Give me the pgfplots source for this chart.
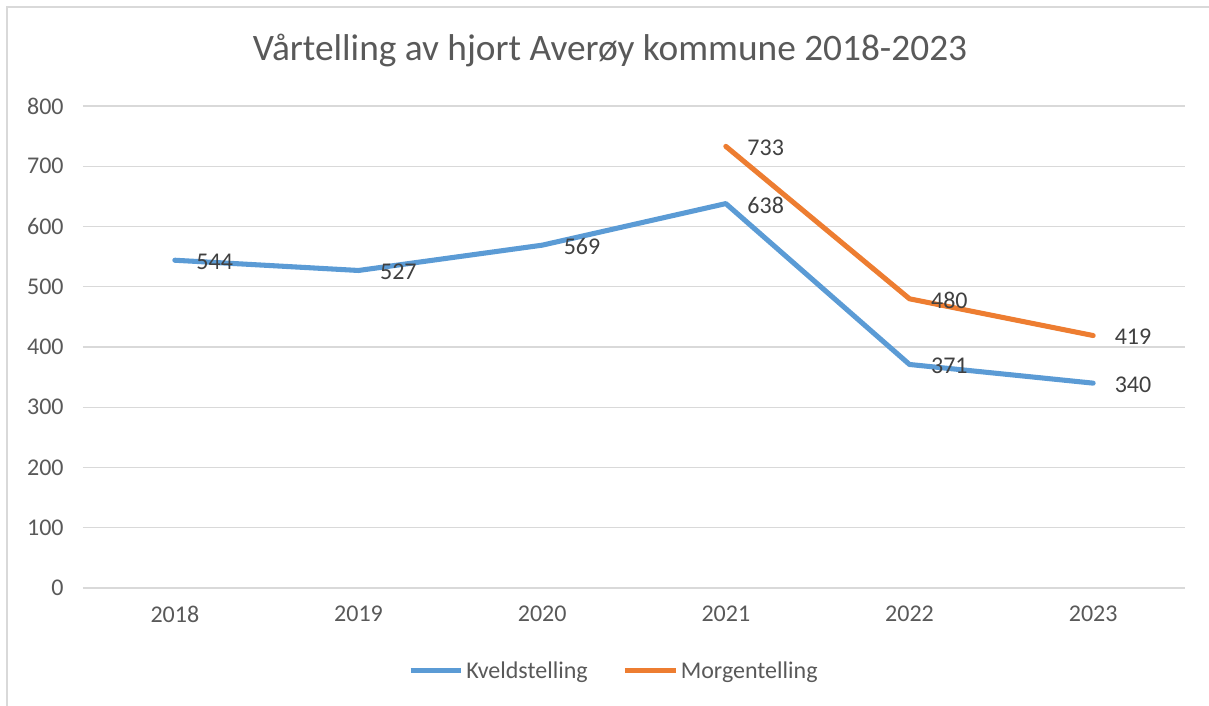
\documentclass[border=0pt]{standalone}
\usepackage{pgfplots}
\pgfplotsset{compat=1.18}
\usepackage{fontspec}
\setmainfont{Carlito}
\definecolor{kveld}{RGB}{91,155,213}
\definecolor{morgen}{RGB}{237,125,49}
\definecolor{gridgray}{RGB}{217,217,217}
\definecolor{txtgray}{RGB}{89,89,89}
\definecolor{lbl}{RGB}{64,64,64}

\begin{document}
\begin{tikzpicture}
\path[use as bounding box] (-62.25pt,-88.5pt) rectangle (844.5pt,441pt);
\draw[gridgray,line width=1.2pt] (-57pt,-88.5pt) -- (-57pt,435.75pt) -- (844.5pt,435.75pt);
\begin{axis}[
  at={(0,0)}, anchor=south west,
  scale only axis,
  width=826.5pt, height=361.5pt,
  xmin=-0.5, xmax=5.5,
  ymin=0, ymax=800,
  xtick={0,1,2,3,4,5},
  xticklabels={2018,2019,2020,2021,2022,2023},
  ytick={0,100,200,300,400,500,600,700,800},
  /pgf/number format/assume math mode=true,
  tick label style={font=\fontsize{18}{21}\selectfont, text=txtgray},
  xticklabel style={yshift=-10pt},
  yticklabel style={xshift=-11pt},
  major tick length=0pt,
  axis line style={draw=none},
  ymajorgrids=true,
  grid style={gridgray, line width=1.1pt},
  legend columns=2,
  legend style={at={(0.482,-0.172)}, anchor=center, draw=none, fill=none,
    font=\fontsize{18}{21}\selectfont, text=txtgray,
    /tikz/every even column/.append style={column sep=24pt}},
  legend image code/.code={\draw[#1,line cap=butt] (0pt,0pt) -- (38pt,0pt);},
  every node near coord/.append style={anchor=west, xshift=11pt, yshift=-1pt,
    font=\fontsize{18}{21}\selectfont, text=lbl},
]
\addplot[kveld, line width=3.8pt, line join=round, line cap=round, nodes near coords]
  coordinates {(0,544) (1,527) (2,569) (3,638) (4,371) (5,340)};
\addlegendentry{Kveldstelling}
\addplot[morgen, line width=3.8pt, line join=round, line cap=round, nodes near coords]
  coordinates {(3,733) (4,480) (5,419)};
\addlegendentry{Morgentelling}
\end{axis}
\node[text=txtgray, font=\fontsize{28}{33}\selectfont] at (395.25pt,403.5pt)
  {Vårtelling av hjort Averøy kommune 2018-2023};
\end{tikzpicture}
\end{document}
